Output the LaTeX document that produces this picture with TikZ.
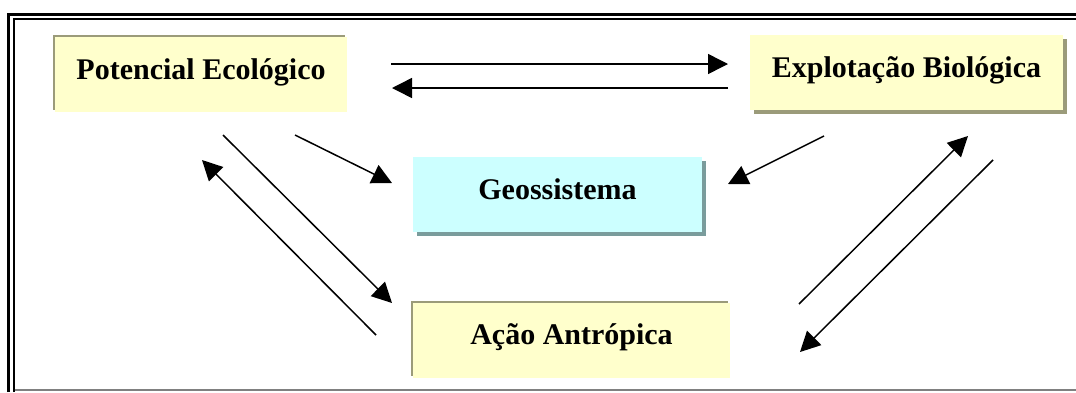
\documentclass[tikz,border=0pt]{standalone}
\usepackage{fontspec}
\setmainfont{Liberation Serif}
\usetikzlibrary{arrows.meta,shadows}
\definecolor{boxyellow}{HTML}{FFFFCC}
\definecolor{boxcyan}{HTML}{CCFFFF}
\definecolor{shadeyellow}{HTML}{9B9B7A}
\definecolor{shadecyan}{HTML}{7A9C9C}

\begin{document}
\begin{tikzpicture}[
    x=1pt, y=-1pt,
    textbox/.style={inner xsep=0pt, inner ysep=20pt, text height=22pt, text depth=13pt,
      minimum height=75pt, font=\fontsize{30}{36}\selectfont\bfseries},
    shadedown/.style={general shadow={fill=#1, shadow xshift=3.5pt, shadow yshift=-3.5pt}},
    shadeup/.style={general shadow={fill=#1, shadow xshift=-2pt, shadow yshift=2pt}},
    >={Triangle[length=20pt,width=20pt]},
    link/.style={->, line width=1.5pt}
  ]
  \useasboundingbox (0,0) rectangle (1076,392);
  % frame
  \draw[line width=3pt] (8.5,392) -- (8.5,14.5) -- (1076,14.5);
  \draw[line width=2pt] (13.5,392) -- (13.5,18.5) -- (1076,18.5);
  \draw[gray, line width=1.5pt] (14.5,390) -- (1076,390);

  % boxes
  \node[textbox, fill=boxyellow, shadeup=shadeyellow, minimum width=292pt] (pot) at (201,74.5) {Potencial Ecológico};
  \node[textbox, fill=boxyellow, shadedown=shadeyellow, minimum width=313pt] (exp) at (906.5,72.5) {Explotação Biológica};
  \node[textbox, fill=boxcyan, shadedown=shadecyan, minimum width=289pt] (geo) at (557.5,194.5) {Geossistema};
  \node[textbox, fill=boxyellow, shadeup=shadeyellow, minimum width=317pt] (act) at (571.5,340) {Ação Antrópica};

  % arrow ends
  \coordinate (pe1) at (391,64);   \coordinate (ep1) at (728,64);
  \coordinate (ep2) at (728,88);   \coordinate (pe2) at (392,88);
  \coordinate (pa1) at (223,135);  \coordinate (ap1) at (392,303);
  \coordinate (ap2) at (376,335);  \coordinate (pa2) at (202,160);
  \coordinate (pg1) at (295,135);  \coordinate (gp1) at (392,183);
  \coordinate (eg1) at (824,136);  \coordinate (ge1) at (728,184);
  \coordinate (ae1) at (799,304);  \coordinate (ea1) at (968,136);
  \coordinate (ea2) at (993,160);  \coordinate (ae2) at (800,352);

  \draw[link] (pe1) -- (ep1);
  \draw[link] (ep2) -- (pe2);
  \draw[link] (pa1) -- (ap1);
  \draw[link] (ap2) -- (pa2);
  \draw[link] (pg1) -- (gp1);
  \draw[link] (eg1) -- (ge1);
  \draw[link] (ae1) -- (ea1);
  \draw[link] (ea2) -- (ae2);
\end{tikzpicture}
\end{document}
